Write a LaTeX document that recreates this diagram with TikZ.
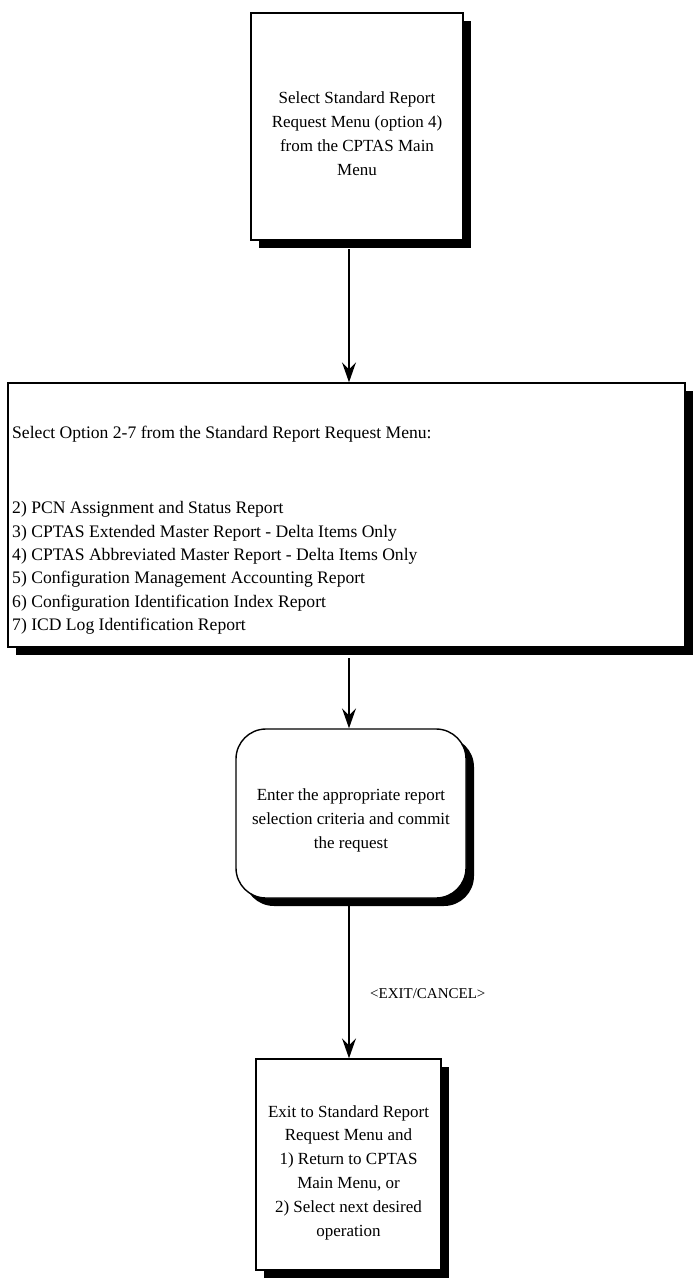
\documentclass[tikz,border=0pt]{standalone}
\usepackage{fontspec}
\setmainfont{Liberation Serif}
\usetikzlibrary{arrows.meta,shadows}
\begin{document}
\begin{tikzpicture}[x=1pt,y=-1pt,
  flowbox/.style={draw=black, line width=1.4pt, fill=white,
    drop shadow={shadow xshift=8pt, shadow yshift=-8pt, fill=black, opacity=1}},
  boxtext/.style={font=\fontsize{17}{23.8}\selectfont, align=center, inner sep=0pt},
  flowarrow/.style={line width=1.4pt, -{Stealth[length=20pt,width=14pt,inset=7pt]}},
  label/.style={font=\fontsize{15}{18}\selectfont, inner sep=0pt}]
\useasboundingbox (0,0) rectangle (693,1287);

% step 1: entry from the main menu
\node[flowbox, minimum width=212pt, minimum height=227pt] (menu) at (357,126.5) {};
\node[boxtext, yshift=-7pt] (menutext) at (menu.center)
  {Select Standard Report\\Request Menu (option 4)\\from the CPTAS Main\\Menu};

% step 2: list of report options
\node[flowbox, minimum width=677pt, minimum height=264pt] (options) at (346.5,515) {};
\node[boxtext, font=\fontsize{17.6}{23.3}\selectfont, align=left, anchor=north west] (optionstext) at (12,426)
  {Select Option 2-7 from the Standard Report Request Menu:\\[52pt]
   2) PCN Assignment and Status Report\\
   3) CPTAS Extended Master Report - Delta Items Only\\
   4) CPTAS Abbreviated Master Report - Delta Items Only\\
   5) Configuration Management Accounting Report\\
   6) Configuration Identification Index Report\\
   7) ICD Log Identification Report};

% step 3: enter criteria
\node[flowbox, rounded corners=30pt, minimum width=230pt, minimum height=169pt] (criteria) at (351,813.5) {};
\node[boxtext, yshift=-7pt] (criteriatext) at (criteria.center)
  {Enter the appropriate report\\selection criteria and commit\\the request};

% step 4: exit
\node[flowbox, minimum width=185pt, minimum height=211pt] (exit) at (348.5,1164.5) {};
\node[boxtext, yshift=-8pt] (exittext) at (exit.center)
  {Exit to Standard Report\\Request Menu and\\1) Return to CPTAS\\Main Menu, or\\2) Select next desired\\operation};

% connectors
\draw[flowarrow] (349,249) -- (options.north -| 349,0);
\draw[flowarrow] (349,658) -- (criteria.north -| 349,0);
\draw[flowarrow] (349,906) -- (exit.north -| 349,0);
\node[label, anchor=west] (cancel) at (370,994) {<EXIT/CANCEL>};
\end{tikzpicture}
\end{document}
